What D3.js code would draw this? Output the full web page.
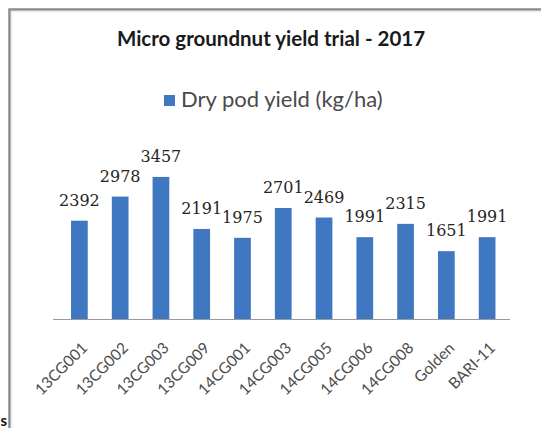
<!DOCTYPE html>
<html>
<head>
<meta charset="utf-8">
<script src="https://cdn.jsdelivr.net/npm/d3@7"></script>
<style>
  html, body { margin: 0; padding: 0; background: #ffffff; }
  svg { display: block; }
</style>
</head>
<body>
<svg id="chart" width="541" height="428"></svg>
<script>
// Groundnut entries and their dry pod yield (kg/ha)
const categories = ["13CG001", "13CG002", "13CG003", "13CG009", "14CG001", "14CG003",
                    "14CG005", "14CG006", "14CG008", "Golden", "BARI-11"];
const yieldValues = [2392, 2978, 3457, 2191, 1975, 2701, 2469, 1991, 2315, 1651, 1991];
const seriesName = "Dry pod yield (kg/ha)";
const chartTitle = "Micro groundnut yield trial - 2017";
const yDomain = [0, 4000];

const svg = d3.select("#chart");
const W = 541, H = 428;

// chart frame
svg.append("rect")
  .attr("x", 9.5).attr("y", 9.5)
  .attr("width", W + 10).attr("height", H + 10)
  .attr("fill", "#ffffff")
  .attr("stroke", "#8a8a8a").attr("stroke-width", 2.5);
svg.append("rect")
  .attr("x", 11.5).attr("y", 11.5)
  .attr("width", W + 10).attr("height", H + 10)
  .attr("fill", "none")
  .attr("stroke", "#ebebeb").attr("stroke-width", 1.5);

// stray glyph at lower left edge
svg.append("text")
  .attr("x", 0.5).attr("y", 426)
  .attr("font-family", "Lato, 'Open Sans', sans-serif")
  .attr("font-weight", "bold")
  .attr("font-size", 15)
  .attr("fill", "#111")
  .text("s");

// title
svg.append("text")
  .attr("x", 271).attr("y", 46)
  .attr("text-anchor", "middle")
  .attr("font-family", "Lato, 'Open Sans', sans-serif")
  .attr("font-weight", "bold")
  .attr("font-size", 20.5)
  .attr("fill", "#1a1a1a")
  .text(chartTitle);

// legend
const legend = svg.append("g");
legend.append("rect")
  .attr("x", 164).attr("y", 95)
  .attr("width", 11).attr("height", 11)
  .attr("fill", "#3f77c1");
legend.append("text")
  .attr("x", 181).attr("y", 107)
  .attr("font-family", "Lato, 'Open Sans', sans-serif")
  .attr("font-size", 22)
  .attr("fill", "#4a4a4a")
  .text(seriesName);

// scales
const x = d3.scaleBand()
  .domain(categories)
  .range([59, 507.5])
  .paddingInner(0.59)
  .paddingOuter(0.295);

const y = d3.scaleLinear()
  .domain(yDomain)
  .range([319, 154.6]);

// bars
svg.append("g")
  .selectAll("rect")
  .data(yieldValues)
  .join("rect")
  .attr("x", (d, i) => x(categories[i]))
  .attr("y", d => y(d))
  .attr("width", x.bandwidth())
  .attr("height", d => y(0) - y(d))
  .attr("fill", "#3f77c1");

// category axis (line only, labels drawn rotated below)
const xAxis = d3.axisBottom(x).tickSize(0).tickFormat("");
const axisG = svg.append("g")
  .attr("transform", `translate(0,${y(0)})`)
  .call(xAxis);
axisG.select(".domain")
  .attr("d", "M53,0.5H510")
  .attr("stroke", "#9a9a9a")
  .attr("stroke-width", 1.2);

svg.append("g")
  .selectAll("text")
  .data(categories)
  .join("text")
  .attr("transform", d => `translate(${x(d) + x.bandwidth() / 2 + 9},${y(0) + 30}) rotate(-45)`)
  .attr("text-anchor", "end")
  .attr("font-family", "Lato, 'Open Sans', sans-serif")
  .attr("font-size", 15.5)
  .attr("fill", "#4d4d4d")
  .text(d => d);

// value labels
svg.append("g")
  .selectAll("text")
  .data(yieldValues)
  .join("text")
  .attr("x", (d, i) => x(categories[i]) + x.bandwidth() / 2)
  .attr("y", d => y(d) - 15)
  .attr("text-anchor", "middle")
  .attr("font-family", "'DejaVu Serif', serif")
  .attr("font-size", 16)
  .attr("fill", "#262626")
  .text(d => d);
</script>
</body>
</html>
